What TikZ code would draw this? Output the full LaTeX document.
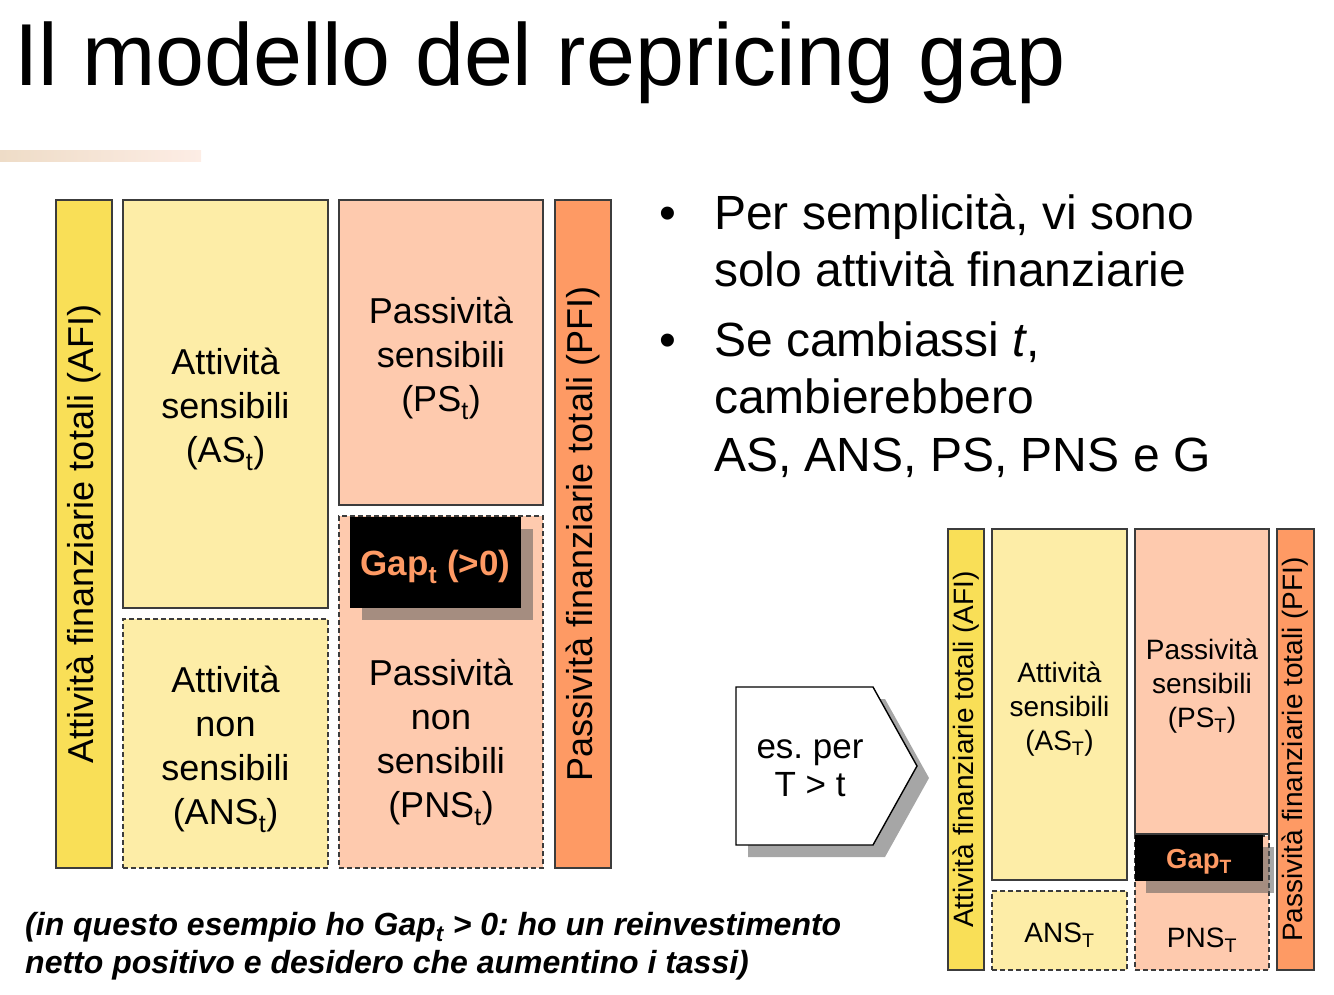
\documentclass[tikz,border=0pt]{standalone}
\usepackage{fontspec}
\setmainfont{Liberation Sans}
\definecolor{afic}{HTML}{F9DF57}
\definecolor{asc}{HTML}{FDEDA7}
\definecolor{psc}{HTML}{FECAAE}
\definecolor{pfic}{HTML}{FE9A64}
\definecolor{gapc}{HTML}{FE9A64}
\definecolor{boxline}{HTML}{3C3C3C}
\definecolor{barl}{HTML}{EEDCC7}
\definecolor{barr}{HTML}{FDEDE5}
\definecolor{shgray}{HTML}{5C5C5C}
\definecolor{arrsh}{HTML}{A6A6A6}
\newcommand{\fsz}[2]{\fontsize{#1}{#2}\selectfont}
\frenchspacing
\begin{document}
\frenchspacing
\begin{tikzpicture}[x=1pt,y=-1pt,
  box/.style={draw=boxline, line width=1.4pt, inner sep=0pt},
  dashbox/.style={box, dash pattern=on 5pt off 3pt},
  bigtxt/.style={font=\fsz{36}{44}, align=center, inner sep=0pt},
  smalltxt/.style={font=\fsz{28}{34}, align=center, inner sep=0pt},
  gapbox/.style={fill=black, inner sep=0pt},
  gapshadow/.style={fill=shgray, fill opacity=0.55, inner sep=0pt},
  line/.style={anchor=base west, inner sep=0pt}]
\useasboundingbox (0,0) rectangle (1334,995);

% title
\node[line, font=\fsz{88}{100}] (title) at (14,86) {Il modello del repricing gap};
\shade[left color=barl, right color=barr] (0,151) rectangle (201,162);

% left diagram
\node[box, fill=afic, minimum width=56pt, minimum height=668pt] (afi) at (84,534) {};
\node[rotate=90, bigtxt] (afiT) at (afi.center) {Attività finanziarie totali (AFI)};
\node[box, fill=asc, minimum width=205pt, minimum height=408pt] (as) at (225.5,404) {};
\node[bigtxt] (asT) at (225.5,409) {Attività\\sensibili\\(AS\textsubscript{t})};
\node[dashbox, fill=asc, minimum width=205pt, minimum height=249pt] (ans) at (225.5,743.5) {};
\node[bigtxt] (ansT) at (225.5,749.5) {Attività\\non\\sensibili\\(ANS\textsubscript{t})};
\node[box, fill=psc, minimum width=204pt, minimum height=305pt] (ps) at (441,352.5) {};
\node[bigtxt] (psT) at (441,358) {Passività\\sensibili\\(PS\textsubscript{t})};
\node[dashbox, fill=psc, minimum width=204pt, minimum height=352pt] (pns) at (441,692) {};
\node[bigtxt] (pnsT) at (441,742) {Passività\\non\\sensibili\\(PNS\textsubscript{t})};
\node[gapshadow, minimum width=171pt, minimum height=91pt] (gapsh) at (447.5,574.5) {};
\node[gapbox, minimum width=171pt, minimum height=91pt] (gap) at (435.5,562.5) {};
\node[inner sep=0pt, text=gapc, font=\fsz{35}{40}\bfseries] (gapT) at (435.5,567) {Gap\textsubscript{t} (>0)};
\node[box, fill=pfic, minimum width=56pt, minimum height=668pt] (pfi) at (583,534) {};
\node[rotate=90, bigtxt] (pfiT) at (pfi.center) {Passività finanziarie totali (PFI)};

% bullets
\node[anchor=base, inner sep=0pt, font=\fsz{48}{57}] (b1) at (668,230) {•};
\node[line, font=\fsz{48}{57}] (b1a) at (714,230) {Per semplicità, vi sono};
\node[line, font=\fsz{48}{57}] (b1b) at (714,287) {solo attività finanziarie};
\node[anchor=base, inner sep=0pt, font=\fsz{48}{57}] (b2) at (668,356) {•};
\node[line, font=\fsz{48}{57}] (b2a) at (714,356) {Se cambiassi \textit{t},};
\node[line, font=\fsz{48}{57}] (b2b) at (714,413) {cambierebbero};
\node[line, font=\fsz{48}{57}] (b2c) at (714,471) {AS, ANS, PS, PNS e G};

% arrow shape
\fill[arrsh] (748,699) -- (885,699) -- (929,778) -- (885,857) -- (748,857) -- cycle;
\draw[fill=white, draw=black, line width=1.4pt] (736,687) -- (873,687) -- (917,766) -- (873,845) -- (736,845) -- cycle;
\node[align=center, inner sep=0pt, font=\fsz{35}{38}] (esT) at (810,768) {es. per\\T > t};

% right diagram
\node[box, fill=afic, minimum width=36pt, minimum height=441pt] (afi2) at (966,749.5) {};
\node[rotate=90, smalltxt] (afi2T) at (afi2.center) {Attività finanziarie totali (AFI)};
\node[box, fill=asc, minimum width=135pt, minimum height=351pt] (as2) at (1059.5,704.5) {};
\node[smalltxt] (as2T) at (1059.5,709.5) {Attività\\sensibili\\(AS\textsubscript{T})};
\node[dashbox, fill=asc, minimum width=135pt, minimum height=79pt] (ans2) at (1059.5,930.5) {};
\node[smalltxt] (ans2T) at (1059.5,935.5) {ANS\textsubscript{T}};
\node[box, fill=psc, minimum width=134pt, minimum height=305pt] (ps2) at (1202,681.5) {};
\node[smalltxt] (ps2T) at (1202,686.5) {Passività\\sensibili\\(PS\textsubscript{T})};
\node[dashbox, fill=psc, minimum width=134pt, minimum height=134pt] (pns2) at (1202,903) {};
\node[smalltxt] (pns2T) at (1202,940) {PNS\textsubscript{T}};
\node[gapshadow, minimum width=128pt, minimum height=46pt] (gap2sh) at (1210,870) {};
\node[gapbox, minimum width=128pt, minimum height=46pt] (gap2) at (1199,858) {};
\node[inner sep=0pt, text=gapc, font=\fsz{27.5}{32}\bfseries] (gap2T) at (1199,862) {Gap\textsubscript{T}};
\node[box, fill=pfic, minimum width=37pt, minimum height=441pt] (pfi2) at (1295.5,749.5) {};
\node[rotate=90, smalltxt] (pfi2T) at (pfi2.center) {Passività finanziarie totali (PFI)};

% bottom note
\node[line, font=\fsz{32}{38}\bfseries\itshape] (n1) at (25,935) {(in questo esempio ho Gap\textsubscript{t} > 0: ho un reinvestimento};
\node[line, font=\fsz{32}{38}\bfseries\itshape] (n2) at (25,973) {netto positivo e desidero che aumentino i tassi)};
\end{tikzpicture}
\end{document}
